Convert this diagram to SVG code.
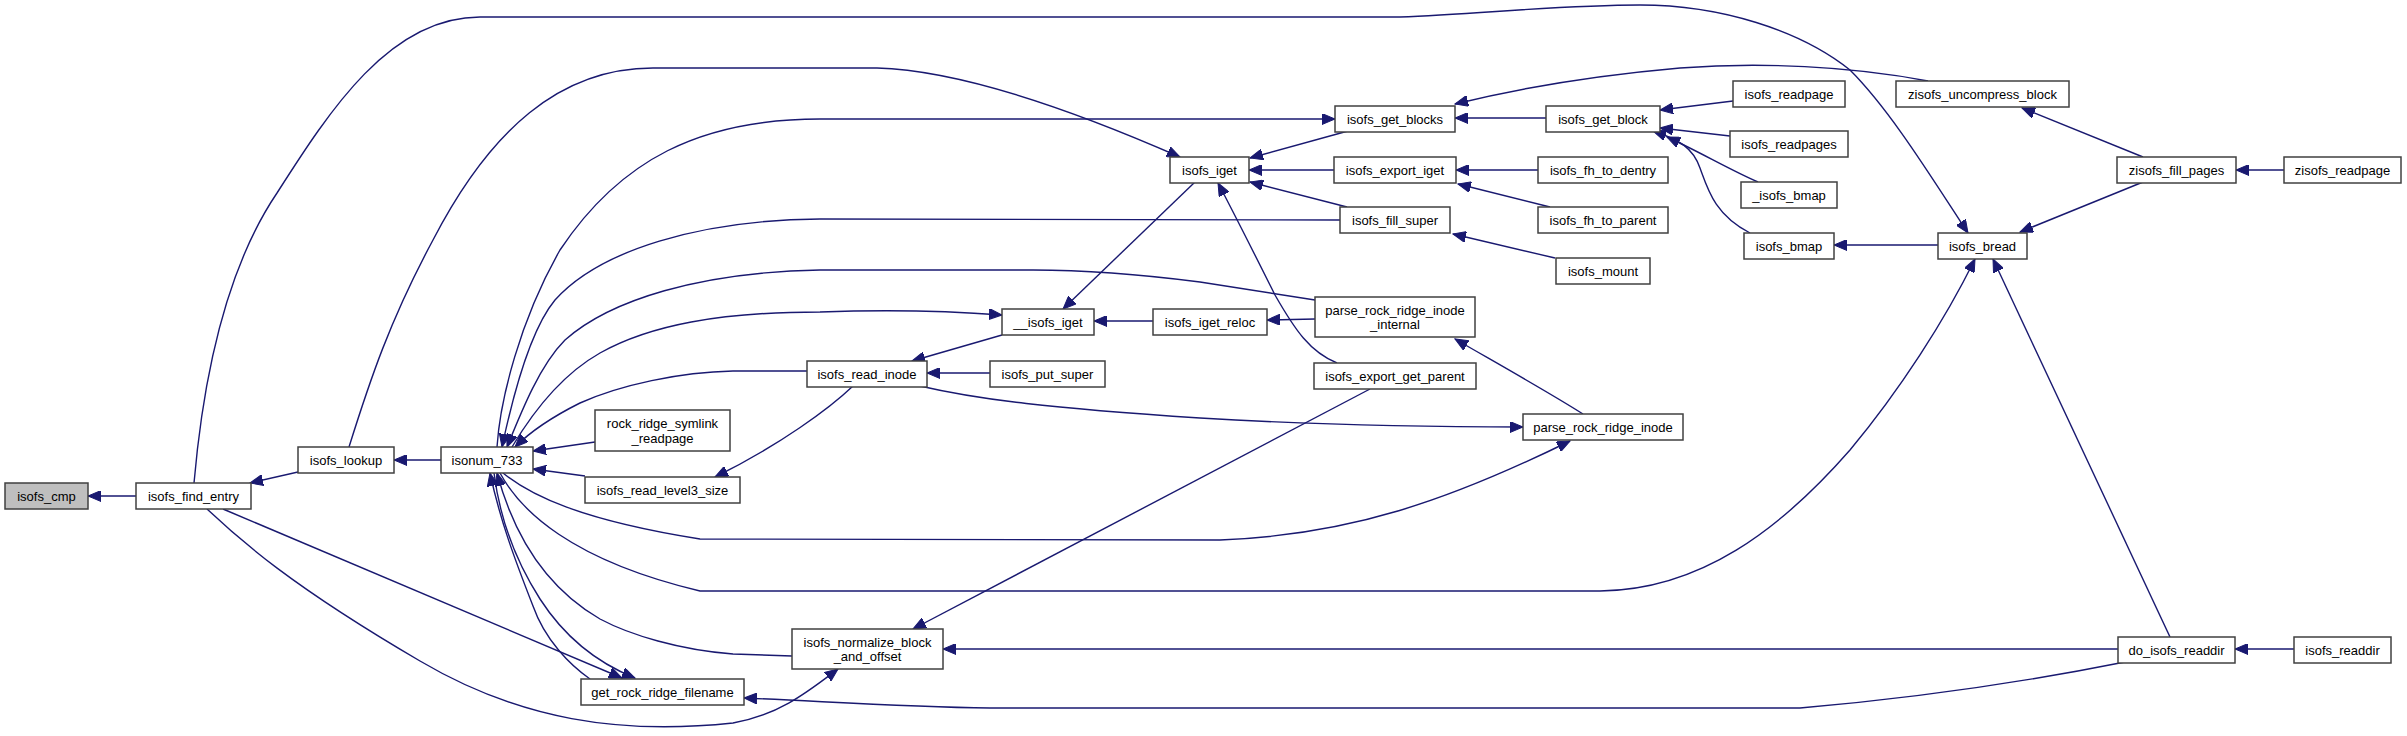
<svg xmlns="http://www.w3.org/2000/svg" width="2407" height="736" viewBox="0 0 2407 736">
<style>
.n rect{fill:#fff;stroke:#404040;stroke-width:1.5}
.n.g rect{fill:#bfbfbf}
.n text{font-family:"Liberation Sans",Arial,sans-serif;font-size:13px;fill:#000;text-anchor:middle}
.e path{fill:none;stroke:#191970;stroke-width:1.4;marker-end:url(#ah)}
.e path.na{marker-end:none}
</style>
<defs>
<marker id="ah" markerUnits="userSpaceOnUse" markerWidth="14" markerHeight="11" refX="13" refY="5.5" orient="auto">
<path d="M0,0 L13,5.5 L0,11 z" fill="#191970" stroke="#191970" stroke-width="1"/>
</marker>
</defs>
<rect width="2407" height="736" fill="#fff"/>
<g id="edges" class="e">
<path d="M136,496 L88,496"/>
<path d="M298,472 L250,483"/>
<path d="M441,460 L394,460"/>
<path d="M194,483 C203,380 225,270 277,193 C330,110 390,17 480,17 L1400,17 C1480,14 1560,5 1640,5 C1720,5 1800,30 1850,70 C1890,110 1930,175 1968,233"/>
<path d="M349,447 C370,380 390,320 433,240 C490,130 560,68 653,68 L877,68 C950,70 1050,100 1180,157"/>
<path d="M497,447 C500,400 520,320 560,250 C620,160 700,119 820,119 L1335,119"/>
<path d="M1340,220 L820,219 C700,220 600,250 555,300 C530,330 512,400 502,447"/>
<path d="M1315,300 L1200,282 C1130,273 1080,270 1033,270 L820,270 C700,272 610,300 565,340 C540,365 522,410 507,447"/>
<path d="M512,447 C540,400 570,370 600,353 C650,325 720,312 820,312 C900,309 950,311 1002,315"/>
<path d="M807,371 L733,371 C680,372 620,385 580,403 C550,418 530,432 515,447"/>
<path d="M595,442 L533,451"/>
<path d="M585,476 L533,469"/>
<path d="M853,386 C830,408 780,445 715,477"/>
<path d="M503,473 C530,495 580,520 700,539 L1220,540 C1350,535 1450,500 1570,441"/>
<path d="M500,473 C520,510 570,560 700,591 L1600,591 C1700,590 1780,530 1850,450 C1900,390 1945,320 1975,259"/>
<path d="M792,656 L733,654 C680,650 630,635 600,619 C550,590 515,540 497,473"/>
<path d="M590,679 C570,665 545,640 533,606 C515,560 500,520 490,473"/>
<path d="M494,473 C500,520 515,560 540,599 C560,630 590,660 635,678"/>
<path d="M223,509 L622,678"/>
<path d="M207,509 C240,540 290,585 420,661 C520,720 620,735 733,723 C780,715 810,690 838,669"/>
<path d="M2125,662 C2060,675 1950,695 1800,708 L990,708 C900,707 820,701 744,698"/>
<path d="M2118,649 L943,649"/>
<path d="M1370,389 L913,629"/>
<path d="M920,386 C980,400 1050,408 1200,418 C1300,424 1400,427 1523,427"/>
<path d="M990,373 L927,373"/>
<path d="M1002,335 L912,361"/>
<path d="M1195,182 L1063,309"/>
<path d="M1153,321 L1094,321"/>
<path d="M1315,319 L1267,320"/>
<path d="M1337,363 C1310,352 1295,330 1275,295 C1255,255 1235,215 1218,183"/>
<path d="M1348,131 L1250,158"/>
<path d="M1334,170 L1249,170"/>
<path d="M1347,207 L1250,182"/>
<path d="M1546,118 L1455,118"/>
<path d="M1928,81 C1850,66 1760,62 1680,68 C1600,75 1520,88 1455,104"/>
<path d="M1538,170 L1456,170"/>
<path d="M1550,207 L1458,184"/>
<path d="M1555,258 L1453,234"/>
<path d="M1583,414 C1550,393 1500,365 1455,339"/>
<path d="M1733,101 L1660,110"/>
<path d="M1730,136 L1660,128"/>
<path d="M1758,182 C1730,170 1700,152 1667,137"/>
<path d="M1750,233 C1715,215 1708,190 1700,168 C1693,148 1680,140 1653,131"/>
<path d="M1938,245 L1834,245"/>
<path d="M2143,182 L2020,232"/>
<path d="M2143,157 L2022,108"/>
<path d="M2284,170 L2236,170"/>
<path d="M2170,637 L1993,259"/>
<path d="M2294,649 L2235,649"/>
</g>
<g id="isofs_cmp" class="n g"><rect x="5" y="483" width="83" height="26"/><text x="46.5" y="500.5">isofs_cmp</text></g>
<g id="isofs_find_entry" class="n"><rect x="136" y="483" width="115" height="26"/><text x="193.5" y="500.5">isofs_find_entry</text></g>
<g id="isofs_lookup" class="n"><rect x="298" y="447" width="96" height="26"/><text x="346" y="464.5">isofs_lookup</text></g>
<g id="isonum_733" class="n"><rect x="441" y="447" width="92" height="26"/><text x="487" y="464.5">isonum_733</text></g>
<g id="rock_ridge_symlink_readpage" class="n"><rect x="595" y="410" width="135" height="41"/><text x="662.5" y="427.5">rock_ridge_symlink</text><text x="662.5" y="442.5">_readpage</text></g>
<g id="isofs_read_level3_size" class="n"><rect x="585" y="477" width="155" height="26"/><text x="662.5" y="494.5">isofs_read_level3_size</text></g>
<g id="get_rock_ridge_filename" class="n"><rect x="581" y="679" width="163" height="26"/><text x="662.5" y="696.5">get_rock_ridge_filename</text></g>
<g id="isofs_read_inode" class="n"><rect x="807" y="361" width="120" height="26"/><text x="867" y="378.5">isofs_read_inode</text></g>
<g id="isofs_put_super" class="n"><rect x="990" y="361" width="115" height="26"/><text x="1047.5" y="378.5">isofs_put_super</text></g>
<g id="isofs_normalize_block_and_offset" class="n"><rect x="792" y="629" width="151" height="40"/><text x="867.5" y="646.5">isofs_normalize_block</text><text x="867.5" y="660.5">_and_offset</text></g>
<g id="__isofs_iget" class="n"><rect x="1002" y="309" width="92" height="26"/><text x="1048" y="326.5">__isofs_iget</text></g>
<g id="isofs_iget_reloc" class="n"><rect x="1153" y="309" width="114" height="26"/><text x="1210" y="326.5">isofs_iget_reloc</text></g>
<g id="isofs_iget" class="n"><rect x="1170" y="157" width="79" height="26"/><text x="1209.5" y="174.5">isofs_iget</text></g>
<g id="isofs_get_blocks" class="n"><rect x="1335" y="106" width="120" height="26"/><text x="1395" y="123.5">isofs_get_blocks</text></g>
<g id="isofs_export_iget" class="n"><rect x="1334" y="157" width="122" height="26"/><text x="1395" y="174.5">isofs_export_iget</text></g>
<g id="isofs_fill_super" class="n"><rect x="1340" y="207" width="110" height="26"/><text x="1395" y="224.5">isofs_fill_super</text></g>
<g id="parse_rock_ridge_inode_internal" class="n"><rect x="1315" y="297" width="160" height="40"/><text x="1395" y="314.5">parse_rock_ridge_inode</text><text x="1395" y="328.5">_internal</text></g>
<g id="isofs_export_get_parent" class="n"><rect x="1314" y="363" width="162" height="26"/><text x="1395" y="380.5">isofs_export_get_parent</text></g>
<g id="parse_rock_ridge_inode" class="n"><rect x="1523" y="414" width="160" height="26"/><text x="1603" y="431.5">parse_rock_ridge_inode</text></g>
<g id="isofs_get_block" class="n"><rect x="1546" y="106" width="114" height="26"/><text x="1603" y="123.5">isofs_get_block</text></g>
<g id="isofs_fh_to_dentry" class="n"><rect x="1538" y="157" width="130" height="26"/><text x="1603" y="174.5">isofs_fh_to_dentry</text></g>
<g id="isofs_fh_to_parent" class="n"><rect x="1538" y="207" width="130" height="26"/><text x="1603" y="224.5">isofs_fh_to_parent</text></g>
<g id="isofs_mount" class="n"><rect x="1556" y="258" width="94" height="26"/><text x="1603" y="275.5">isofs_mount</text></g>
<g id="isofs_readpage" class="n"><rect x="1733" y="81" width="112" height="26"/><text x="1789" y="98.5">isofs_readpage</text></g>
<g id="isofs_readpages" class="n"><rect x="1730" y="131" width="118" height="26"/><text x="1789" y="148.5">isofs_readpages</text></g>
<g id="_isofs_bmap" class="n"><rect x="1741" y="182" width="96" height="26"/><text x="1789" y="199.5">_isofs_bmap</text></g>
<g id="isofs_bmap" class="n"><rect x="1744" y="233" width="90" height="26"/><text x="1789" y="250.5">isofs_bmap</text></g>
<g id="isofs_bread" class="n"><rect x="1938" y="233" width="89" height="26"/><text x="1982.5" y="250.5">isofs_bread</text></g>
<g id="zisofs_uncompress_block" class="n"><rect x="1896" y="81" width="173" height="26"/><text x="1982.5" y="98.5">zisofs_uncompress_block</text></g>
<g id="zisofs_fill_pages" class="n"><rect x="2117" y="157" width="119" height="26"/><text x="2176.5" y="174.5">zisofs_fill_pages</text></g>
<g id="zisofs_readpage" class="n"><rect x="2284" y="157" width="117" height="26"/><text x="2342.5" y="174.5">zisofs_readpage</text></g>
<g id="do_isofs_readdir" class="n"><rect x="2118" y="637" width="117" height="26"/><text x="2176.5" y="654.5">do_isofs_readdir</text></g>
<g id="isofs_readdir" class="n"><rect x="2294" y="637" width="97" height="26"/><text x="2342.5" y="654.5">isofs_readdir</text></g>
</svg>
